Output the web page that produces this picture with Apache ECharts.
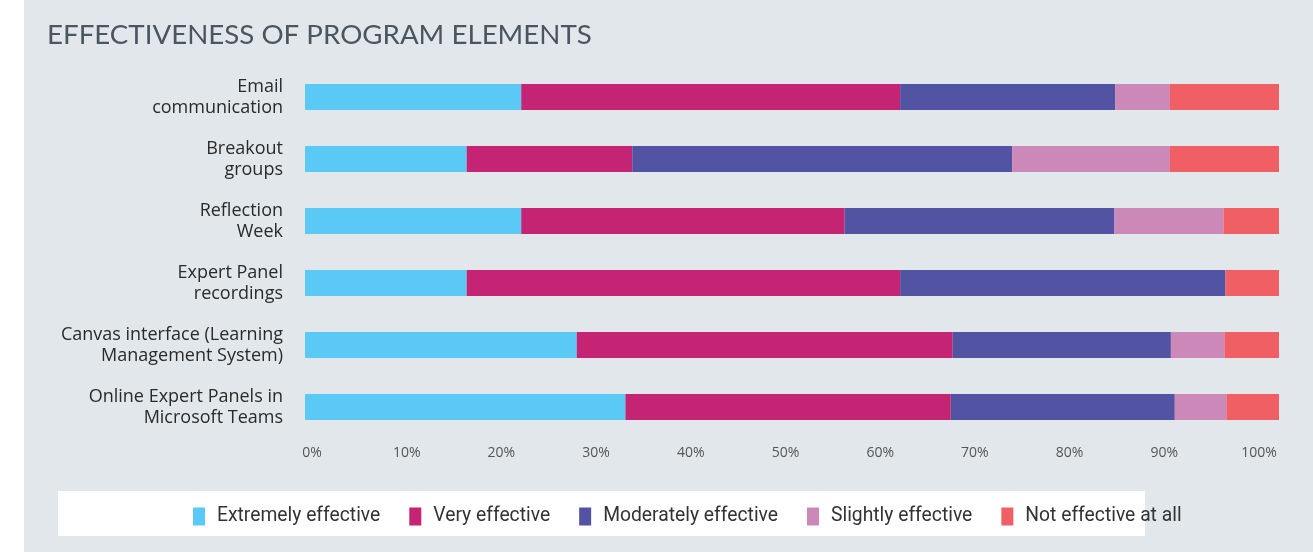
<!DOCTYPE html>
<html><head><meta charset="utf-8">
<script src="https://cdn.jsdelivr.net/npm/echarts@6/dist/echarts.min.js"></script>
<style>html,body{margin:0;padding:0;background:#fff;}#c{width:1313px;height:552px;}</style>
</head><body><div id="c"></div>
<script>
const categories = [
  "Email\ncommunication",
  "Breakout\ngroups",
  "Reflection\nWeek",
  "Expert Panel\nrecordings",
  "Canvas interface (Learning\nManagement System)",
  "Online Expert Panels in\nMicrosoft Teams"
];
const seriesNames = ["Extremely effective","Very effective","Moderately effective","Slightly effective","Not effective at all"];
const extremely = [22.2, 16.6, 22.2, 16.6, 27.9, 32.9];
const very      = [38.9, 17.0, 33.2, 44.5, 38.6, 33.4];
const moderately= [22.1, 39.0, 27.7, 33.4, 22.4, 23.0];
const slightly  = [5.6, 16.2, 11.2, 0, 5.5, 5.3];
const notAtAll  = [11.2, 11.2, 5.7, 5.5, 5.6, 5.4];
const tickValues = [0,10,20,30,40,50,60,70,80,90,100];
const colors = ["#5bc9f6","#c52373","#5353a3","#cc88b9","#ef5f63"];
const values = [extremely, very, moderately, slightly, notAtAll];

const chart = echarts.init(document.getElementById('c'));
chart.setOption({
  animation:false,
  graphic:[
    {type:'rect', z:-10, shape:{x:24,y:0,width:1289,height:552}, style:{fill:'#e2e7eb'}},
    {type:'rect', z:-9, shape:{x:58,y:491,width:1087,height:45}, style:{fill:'#ffffff'}},
    {type:'text', left:47, top:21, style:{text:'EFFECTIVENESS OF PROGRAM ELEMENTS', fill:'#4a5661', font:'normal 27.7px Lato'}}
  ],
  legend:{
    data:seriesNames, left:193, top:507, padding:0, itemWidth:12, itemHeight:18, itemGap:29,
    icon:'rect', textStyle:{fontFamily:'Roboto', fontSize:19.3, color:'#333', padding:[0,0,0,7]}
  },
  grid:[
    {left:305, width:974, top:66, height:372},
    {left:312, width:947, top:66, height:372}
  ],
  xAxis:[
    {gridIndex:0, type:'value', min:0, max:100, show:false},
    {gridIndex:1, type:'value', min:0, max:100, interval:10, axisLine:{show:false}, axisTick:{show:false}, splitLine:{show:false},
     axisLabel:{formatter:'{value}%', margin:8, color:'#555', fontFamily:'Open Sans', fontSize:14}}
  ],
  yAxis:[
    {gridIndex:0, type:'category', data:categories, inverse:true, axisLine:{show:false}, axisTick:{show:false},
     axisLabel:{margin:22, color:'#2a2a2a', fontFamily:'Open Sans', fontSize:18, lineHeight:21, align:'right'}},
    {gridIndex:1, type:'value', show:false}
  ],
  series: seriesNames.map((n,i)=>({
    name:n, type:'bar', stack:'total', xAxisIndex:0, yAxisIndex:0, barWidth:26,
    itemStyle:{color:colors[i]}, data:values[i]
  }))
});
</script></body></html>
